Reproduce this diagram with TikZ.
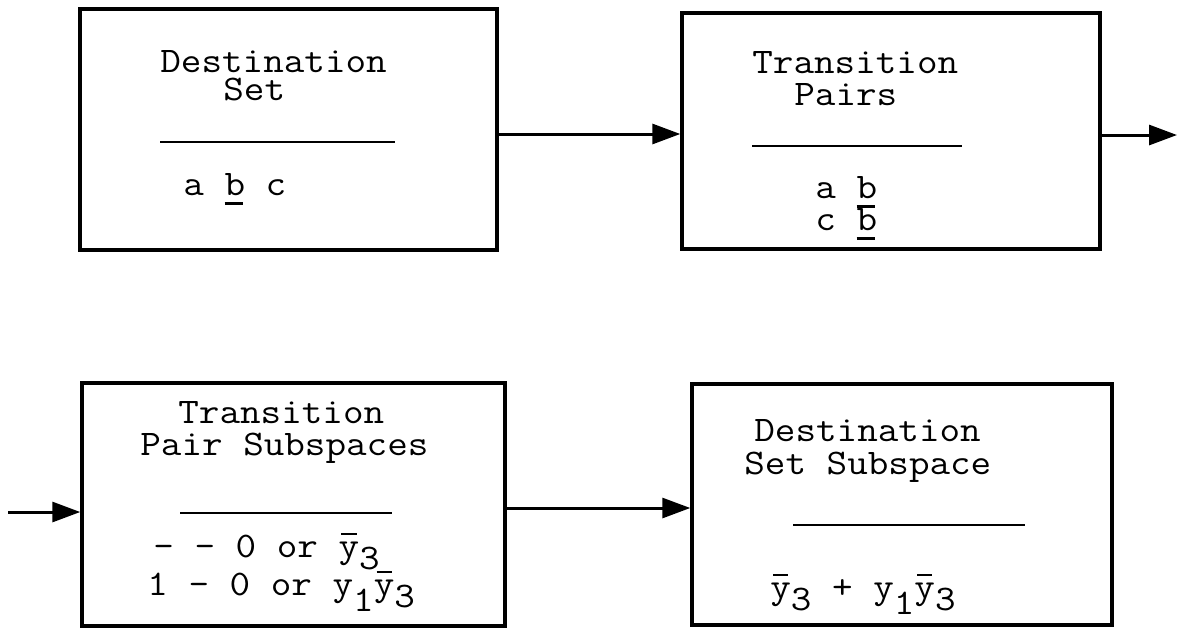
\documentclass[tikz,border=0pt]{standalone}
\usepackage{fontspec}
\setmonofont{Latin Modern Mono}[FakeStretch=1.11]
\usetikzlibrary{arrows.meta}

% barred variable with the bar raised above the letter
\newcommand\ybar{\makebox[0pt][l]{\hspace*{0.08em}\raisebox{0.6em}{\rule{0.42em}{0.07em}}}y}
\newcommand\lowsub[1]{\raisebox{-0.34em}{#1}}
\newcommand\deepsub[1]{\raisebox{-0.45em}{#1}}
% underline set a little lower and heavier than the default
\newcommand\ul[1]{\makebox[0pt][l]{\raisebox{-0.28em}{\rule{0.5em}{0.08em}}}#1}

\tikzset{
  blockbox/.style={draw, line width=1.7pt, rectangle, inner sep=0pt},
  txt/.style={anchor=base west, inner sep=0pt, font=\ttfamily\fontsize{18}{21}\selectfont},
  rulesep/.style={line width=1.1pt},
  arr/.style={line width=1.5pt, -{Triangle[length=14pt,width=10pt]}}
}

\begin{document}
\begin{tikzpicture}[x=0.5pt, y=-0.5pt]
\useasboundingbox (0,0) rectangle (1177,628);

% the four blocks
\node[blockbox, minimum width=208.5pt, minimum height=120.5pt] (b1) at (288.5,129.5) {};
\node[blockbox, minimum width=209pt, minimum height=118pt] (b2) at (891,131) {};
\node[blockbox, minimum width=211.5pt, minimum height=121.5pt] (b3) at (293.5,504.5) {};
\node[blockbox, minimum width=210pt, minimum height=120.5pt] (b4) at (902,504.5) {};

% block 1: destination set
\node[txt] (t1a) at (160,72) {Destination};
\node[txt] (t1b) at (223,100) {Set};
\draw[rulesep] (160,142) -- (395,142);
\node[txt] (t1c) at (183,195) {a \ul{b} c};

% block 2: transition pairs
\node[txt] (t2a) at (752,73) {Transition};
\node[txt] (t2b) at (794,105) {Pairs};
\draw[rulesep] (752,146) -- (962,146);
\node[txt] (t2c) at (815,198) {a \ul{b}};
\node[txt] (t2d) at (815,230) {c \ul{b}};

% block 3: transition pair subspaces
\node[txt] (t3a) at (178,423) {Transition};
\node[txt] (t3b) at (140,455) {Pair Subspaces};
\draw[rulesep] (180,513) -- (392,513);
\node[txt] (t3c) at (153,557) {- - 0 or \ybar\lowsub{3}};
\node[txt] (t3d) at (147,595) {1 - 0 or y\deepsub{1}\ybar\lowsub{3}};

% block 4: destination set subspace
\node[txt] (t4a) at (754,441) {Destination};
\node[txt] (t4b) at (744,474) {Set Subspace};
\draw[rulesep] (793,525) -- (1025,525);
\node[txt] (t4c) at (770,598) {\ybar\lowsub{3} + y\deepsub{1}\ybar\lowsub{3}};

% connectors
\coordinate (a12) at (0,134);
\coordinate (out2) at (1177,135);
\coordinate (in3) at (8,512);
\coordinate (a34) at (0,508);
\draw[arr] (b1.east |- a12) -- (b2.west |- a12);
\draw[arr] (b2.east |- out2) -- (out2);
\draw[arr] (in3) -- (b3.west |- in3);
\draw[arr] (b3.east |- a34) -- (b4.west |- a34);
\end{tikzpicture}
\end{document}
